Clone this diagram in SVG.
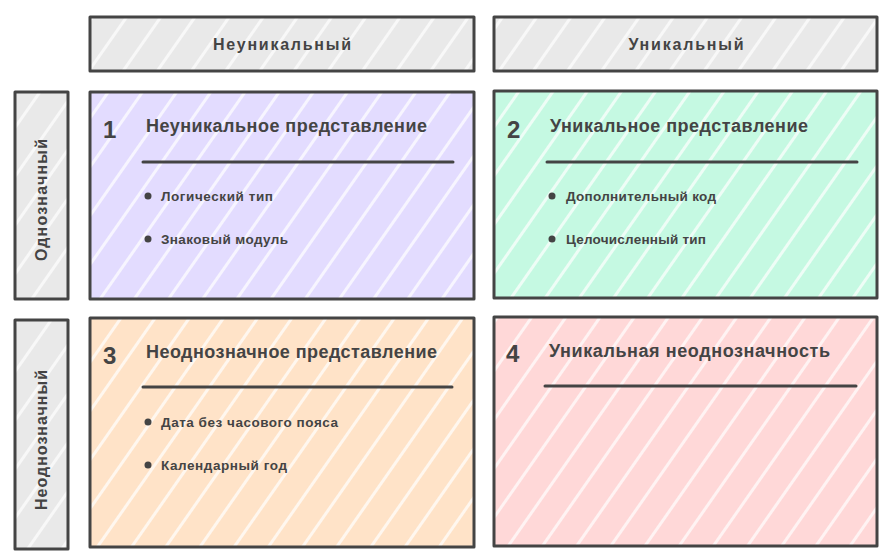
<svg xmlns="http://www.w3.org/2000/svg" width="886" height="559" viewBox="0 0 886 559">
<defs>
<pattern id="hGray" width="28" height="28" patternUnits="userSpaceOnUse" patternTransform="rotate(-55)"><rect width="28" height="28" fill="#e9e9e9"/><rect x="0" y="0" width="28" height="3" fill="#ffffff" opacity="0.7"/></pattern>
<pattern id="hPurple" width="28" height="28" patternUnits="userSpaceOnUse" patternTransform="rotate(-55)"><rect width="28" height="28" fill="#e3dcff"/><rect x="0" y="0" width="28" height="3" fill="#ffffff" opacity="0.7"/></pattern>
<pattern id="hGreen" width="28" height="28" patternUnits="userSpaceOnUse" patternTransform="rotate(-55)"><rect width="28" height="28" fill="#c5f9e2"/><rect x="0" y="0" width="28" height="3" fill="#ffffff" opacity="0.7"/></pattern>
<pattern id="hOrange" width="28" height="28" patternUnits="userSpaceOnUse" patternTransform="rotate(-55)"><rect width="28" height="28" fill="#ffe3c8"/><rect x="0" y="0" width="28" height="3" fill="#ffffff" opacity="0.7"/></pattern>
<pattern id="hRed" width="28" height="28" patternUnits="userSpaceOnUse" patternTransform="rotate(-55)"><rect width="28" height="28" fill="#ffd8d8"/><rect x="0" y="0" width="28" height="3" fill="#ffffff" opacity="0.7"/></pattern>
</defs>
<style>
.box{stroke:#444;stroke-width:3;stroke-linejoin:round}
.hdr{font-family:"Liberation Sans",Arial,sans-serif;font-size:16px;font-weight:bold;fill:#444;text-anchor:middle}
.num{font-family:"Liberation Sans",Arial,sans-serif;font-size:24px;font-weight:bold;fill:#444}
.ttl{font-family:"Liberation Sans",Arial,sans-serif;font-size:18px;font-weight:bold;fill:#444}
.itm{font-family:"Liberation Sans",Arial,sans-serif;font-size:13.5px;font-weight:bold;fill:#444}
.sep{stroke:#444;stroke-width:3;stroke-linecap:round}
.dot{fill:#444}
</style>
<rect width="886" height="559" fill="#ffffff"/>
<g id="header-nonunique">
<rect class="box" x="90" y="17" width="384" height="54" fill="url(#hGray)"/>
<text class="hdr" x="282" y="50" textLength="138">Неуникальный</text>
</g>
<g id="header-unique">
<rect class="box" x="494" y="17" width="383" height="54" fill="url(#hGray)"/>
<text class="hdr" x="686" y="50" textLength="115">Уникальный</text>
</g>
<g id="side-unambiguous">
<rect class="box" x="15" y="92" width="53" height="207" fill="url(#hGray)"/>
<text class="hdr" transform="translate(47,200) rotate(-90)" textLength="122">Однозначный</text>
</g>
<g id="side-ambiguous">
<rect class="box" x="15" y="320" width="53" height="229" fill="url(#hGray)"/>
<text class="hdr" transform="translate(47,440) rotate(-90)" textLength="140">Неоднозначный</text>
</g>
<g id="q1">
<rect class="box" x="90" y="92" width="384" height="207" fill="url(#hPurple)"/>
<text class="num" x="103" y="138">1</text>
<text class="ttl" x="146" y="132" textLength="281">Неуникальное представление</text>
<line class="sep" x1="143" y1="162" x2="453" y2="162"/>
<circle class="dot" cx="148" cy="196" r="3.5"/>
<text class="itm" x="161" y="201" textLength="112">Логический тип</text>
<circle class="dot" cx="148" cy="239" r="3.5"/>
<text class="itm" x="161" y="244" textLength="127">Знаковый модуль</text>
</g>
<g id="q2">
<rect class="box" x="494" y="91" width="383" height="207" fill="url(#hGreen)"/>
<text class="num" x="507" y="138">2</text>
<text class="ttl" x="550" y="132" textLength="258">Уникальное представление</text>
<line class="sep" x1="547" y1="162" x2="857" y2="162"/>
<circle class="dot" cx="552" cy="196" r="3.5"/>
<text class="itm" x="566" y="201" textLength="150">Дополнительный код</text>
<circle class="dot" cx="552" cy="239" r="3.5"/>
<text class="itm" x="566" y="244" textLength="140">Целочисленный тип</text>
</g>
<g id="q3">
<rect class="box" x="90" y="318" width="384" height="229" fill="url(#hOrange)"/>
<text class="num" x="103" y="364">3</text>
<text class="ttl" x="146" y="358" textLength="291">Неоднозначное представление</text>
<line class="sep" x1="143" y1="387" x2="452" y2="387"/>
<circle class="dot" cx="148" cy="422" r="3.5"/>
<text class="itm" x="161" y="427" textLength="177">Дата без часового пояса</text>
<circle class="dot" cx="148" cy="465" r="3.5"/>
<text class="itm" x="161" y="470" textLength="126">Календарный год</text>
</g>
<g id="q4">
<rect class="box" x="494" y="317" width="383" height="229" fill="url(#hRed)"/>
<text class="num" x="506" y="362">4</text>
<text class="ttl" x="549" y="357" textLength="281">Уникальная неоднозначность</text>
<line class="sep" x1="545" y1="386" x2="856" y2="386"/>
</g>
<g id="connectors"></g>
</svg>
